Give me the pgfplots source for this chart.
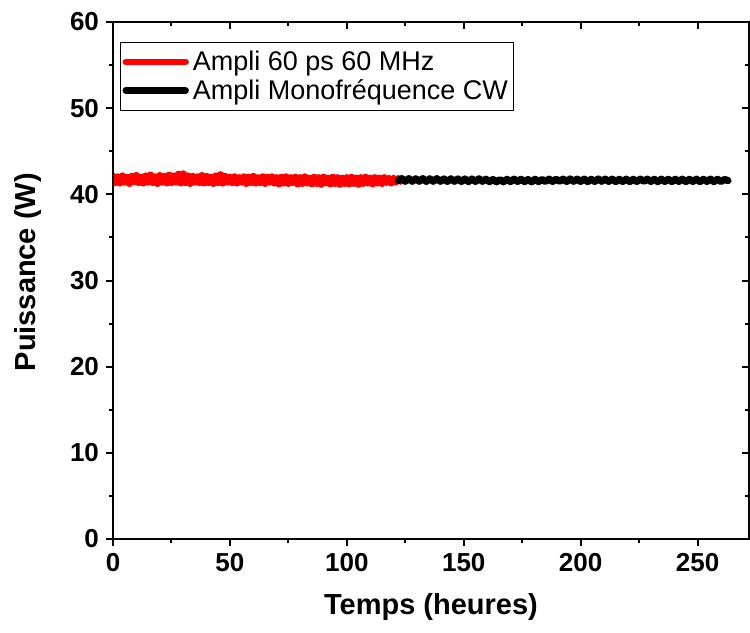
\documentclass[border=0pt]{standalone}
\usepackage{fontspec}
\setmainfont{Liberation Sans}
\usepackage{pgfplots}
\pgfplotsset{compat=1.18}
\begin{document}
\begin{tikzpicture}
\useasboundingbox (-56.5bp,-47bp) rectangle (318.5bp,269.5bp);
\pgfplotsset{common/.style={
  scale only axis, width=318bp, height=258.5bp,
  xmin=0, xmax=272, ymin=0, ymax=60,
  xtick={0,50,...,250}, ytick={0,10,...,60},
  minor x tick num=1, minor y tick num=1,
  axis line style={line width=1.3bp},
  major tick length=3.5bp, minor tick length=2bp,
  tick style={black, line width=1bp},
}}
\begin{axis}[common, tick pos=left, tick align=outside,
  /pgf/number format/assume math mode=true,
  ticklabel style={font=\fontsize{13bp}{15bp}\selectfont\bfseries},
  label style={font=\fontsize{14.5bp}{17bp}\selectfont\bfseries},
  xlabel={Temps (heures)}, ylabel={Puissance (W)},
  xlabel style={at={(axis description cs:0.5,-0.1315)}, anchor=center},
  ylabel style={at={(axis description cs:-0.1336,0.516)}, anchor=center},
  legend style={at={(0.011,0.961)}, anchor=north west, draw=black, line width=0.5bp,
    font=\fontsize{13.5bp}{16bp}\selectfont, inner xsep=1bp, inner ysep=2bp,
    row sep=-1bp},
  legend cell align=left,
  legend image code/.code={\draw[#1, line width=3.2bp, line cap=round] (0bp,0bp) -- (30bp,0bp);},
]
\addplot[red, line width=3.8bp, line join=round, line cap=round] coordinates {
(0,42.05) (1,41.40) (2,42.00) (3,41.35) (4,42.10) (5,41.45) (6,41.95) (7,41.30) (8,42.05) (9,41.50)
(10,42.15) (11,41.40) (12,41.95) (13,41.35) (14,42.10) (15,41.45) (16,42.20) (17,41.40) (18,42.00) (19,41.30)
(20,42.15) (21,41.45) (22,42.05) (23,41.35) (24,42.20) (25,41.40) (26,42.10) (27,41.45) (28,42.30) (29,41.35)
(30,42.35) (31,41.40) (32,42.10) (33,41.30) (34,42.05) (35,41.45) (36,42.00) (37,41.40) (38,42.15) (39,41.35)
(40,42.05) (41,41.40) (42,41.95) (43,41.30) (44,42.10) (45,41.40) (46,42.25) (47,41.35) (48,42.05) (49,41.45)
(50,41.95) (51,41.40) (52,42.00) (53,41.35) (54,41.90) (55,41.45) (56,42.00) (57,41.30) (58,41.95) (59,41.40)
(60,42.05) (61,41.35) (62,41.90) (63,41.40) (64,42.00) (65,41.30) (66,41.95) (67,41.45) (68,42.00) (69,41.35)
(70,41.90) (71,41.25) (72,41.95) (73,41.35) (74,42.00) (75,41.30) (76,41.90) (77,41.40) (78,41.95) (79,41.25)
(80,41.90) (81,41.30) (82,42.00) (83,41.35) (84,41.85) (85,41.25) (86,41.95) (87,41.30) (88,41.90) (89,41.20)
(90,41.95) (91,41.35) (92,41.85) (93,41.25) (94,41.95) (95,41.30) (96,41.90) (97,41.20) (98,41.85) (99,41.30)
(100,41.90) (101,41.25) (102,41.95) (103,41.30) (104,41.85) (105,41.20) (106,41.90) (107,41.30) (108,41.95) (109,41.35)
(110,41.85) (111,41.25) (112,41.90) (113,41.35) (114,41.85) (115,41.30) (116,41.90) (117,41.40) (118,41.85) (119,41.35)
(120,41.85) (121,41.45) (122,41.80) (123,41.55)
};
\addlegendentry{Ampli 60 ps 60 MHz}
\addplot[black, line width=3.6bp, line join=round, line cap=round] coordinates {
(122,41.60) (123.5,41.82) (125,41.52) (126.5,41.82) (128,41.52) (129.5,41.80) (131,41.52) (132.5,41.82) (134,41.50) (135.5,41.80)
(137,41.52) (138.5,41.82) (140,41.52) (141.5,41.78) (143,41.50) (144.5,41.80) (146,41.52) (147.5,41.78) (149,41.50) (150.5,41.78)
(152,41.48) (153.5,41.78) (155,41.50) (156.5,41.80) (158,41.52) (159.5,41.75) (161,41.48) (162.5,41.72) (164,41.46) (165.5,41.70)
(167,41.46) (168.5,41.74) (170,41.48) (171.5,41.76) (173,41.50) (174.5,41.74) (176,41.48) (177.5,41.72) (179,41.46) (180.5,41.74)
(182,41.48) (183.5,41.72) (185,41.50) (186.5,41.76) (188,41.50) (189.5,41.74) (191,41.52) (192.5,41.76) (194,41.50) (195.5,41.78)
(197,41.52) (198.5,41.76) (200,41.50) (201.5,41.76) (203,41.48) (204.5,41.74) (206,41.50) (207.5,41.78) (209,41.52) (210.5,41.76)
(212,41.50) (213.5,41.76) (215,41.48) (216.5,41.74) (218,41.50) (219.5,41.76) (221,41.48) (222.5,41.74) (224,41.50) (225.5,41.76)
(227,41.52) (228.5,41.76) (230,41.50) (231.5,41.74) (233,41.48) (234.5,41.76) (236,41.50) (237.5,41.74) (239,41.48) (240.5,41.74)
(242,41.50) (243.5,41.76) (245,41.48) (246.5,41.74) (248,41.50) (249.5,41.76) (251,41.48) (252.5,41.74) (254,41.50) (255.5,41.76)
(257,41.48) (258.5,41.74) (260,41.50) (261.5,41.72) (263,41.60)
};
\addlegendentry{Ampli Monofréquence CW}
\end{axis}
\begin{axis}[common, xtick pos=right, ytick pos=right, tick align=inside,
  xticklabels={}, yticklabels={}]
\end{axis}
\end{tikzpicture}
\end{document}
